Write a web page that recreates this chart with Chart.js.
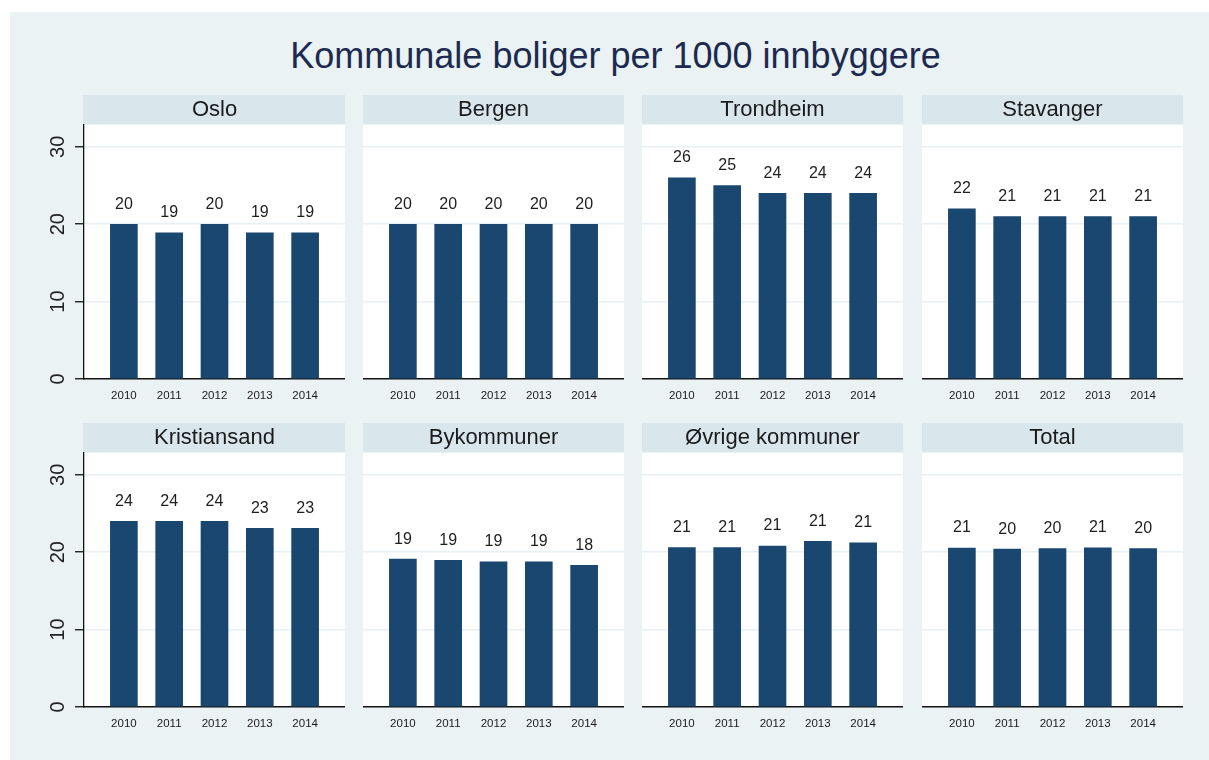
<!DOCTYPE html>
<html><head><meta charset="utf-8">
<script src="https://cdn.jsdelivr.net/npm/chart.js@4"></script>
<style>
body{margin:0;background:#fff;width:1209px;height:760px;overflow:hidden;position:relative;font-family:"Liberation Sans",Arial,sans-serif;}
#bg{position:absolute;left:10px;top:12px;width:1199px;height:748px;background:#eaf2f3;}
#title{position:absolute;left:0;width:1231px;top:36px;text-align:center;font-size:36px;line-height:40px;color:#1c2a50;white-space:nowrap;}
.p{position:absolute;}
</style></head><body>
<div id="bg"></div>
<div id="title">Kommunale boliger per 1000 innbyggere</div>
<script>
// ---- data ----
const years = [2010, 2011, 2012, 2013, 2014];
const panelNames = ["Oslo", "Bergen", "Trondheim", "Stavanger", "Kristiansand", "Bykommuner", "Øvrige kommuner", "Total"];
const oslo = [20, 18.9, 20, 18.9, 18.9];
const bergen = [20, 20, 20, 20, 20];
const trondheim = [26, 25, 24, 24, 24];
const stavanger = [22, 21, 21, 21, 21];
const kristiansand = [24, 24, 24, 23.1, 23.1];
const bykommuner = [19.1, 18.95, 18.75, 18.75, 18.3];
const ovrige = [20.6, 20.6, 20.8, 21.4, 21.2];
const total = [20.55, 20.4, 20.48, 20.58, 20.47];
const yTicks = [0, 10, 20, 30];
const panelValues = [oslo, bergen, trondheim, stavanger, kristiansand, bykommuner, ovrige, total];

// ---- styles / layout ----
const BAR = '#1a476f';
const GRID = '#e8f0f3';
const AXIS = '#111';
const colLeft = [84, 363, 642, 922];
const rowTop = [95, 423];
const plotW = 261;
const yAxisW = 44;
const canvasH = 314;

const panelPlugin = {
  id: 'panelDeco',
  beforeDraw(chart) {
    const {ctx, chartArea: a} = chart;
    ctx.save();
    ctx.fillStyle = '#ffffff';
    ctx.fillRect(a.left, a.top, a.right - a.left, a.bottom - a.top);
    ctx.fillStyle = '#d9e6eb';
    ctx.fillRect(a.left - 1, 0, a.right - a.left + 1, a.top);
    ctx.restore();
  },
  afterDatasetsDraw(chart) {
    const {ctx} = chart;
    const meta = chart.getDatasetMeta(0);
    const data = chart.data.datasets[0].data;
    ctx.save();
    ctx.fillStyle = '#1e1e1e';
    ctx.font = '16px "Liberation Sans", Arial, sans-serif';
    ctx.textAlign = 'center';
    ctx.textBaseline = 'middle';
    meta.data.forEach((bar, i) => {
      ctx.fillText(String(Math.round(data[i].y)), bar.x, bar.y - 20);
    });
    ctx.restore();
  }
};

Chart.defaults.font.family = '"Liberation Sans", Arial, sans-serif';

panelNames.forEach((name, idx) => {
  const r = Math.floor(idx / 4), c = idx % 4;
  const showY = c === 0;
  const div = document.createElement('div');
  div.className = 'p';
  const left = colLeft[c] - (showY ? yAxisW : 0);
  const w = plotW + (showY ? yAxisW : 0);
  div.style.left = left + 'px';
  div.style.top = rowTop[r] + 'px';
  div.style.width = w + 'px';
  div.style.height = canvasH + 'px';
  const cv = document.createElement('canvas');
  div.appendChild(cv);
  document.body.appendChild(div);
  const vals = panelValues[idx];
  new Chart(cv, {
    type: 'bar',
    data: {
      datasets: [{
        data: years.map((yr, i) => ({x: yr, y: vals[i]})),
        backgroundColor: BAR,
        borderWidth: 0,
        barThickness: 27
      }]
    },
    options: {
      responsive: true,
      maintainAspectRatio: false,
      animation: false,
      layout: {padding: 0},
      plugins: {
        legend: {display: false},
        tooltip: {enabled: false},
        title: {
          display: true, text: name, fullSize: false,
          font: {size: 22, weight: 'normal'}, color: '#1b1b1b',
          padding: {top: 2, bottom: 1}
        }
      },
      scales: {
        x: {
          type: 'linear', min: 2009.12, max: 2014.88, offset: false, z: 1,
          grid: {display: false, drawTicks: false},
          border: {display: true, color: AXIS, width: 1.5},
          ticks: {
            stepSize: 1, includeBounds: false, autoSkip: false, maxRotation: 0, minRotation: 0,
            padding: 10, color: '#1a1a1a', font: {size: 11.5},
            callback: v => (years.includes(v) ? String(v) : '')
          },
          afterFit: s => { s.height = 30; }
        },
        y: {
          min: 0, max: 32.9,
          afterBuildTicks: s => { s.ticks = yTicks.map(v => ({value: v})); },
          ticks: {
            display: showY, autoSkip: false, minRotation: 90, maxRotation: 90,
            crossAlign: 'center', padding: 5, color: '#222', font: {size: 20}
          },
          grid: {
            color: ctx => (ctx.tick && ctx.tick.value === 0 ? 'rgba(0,0,0,0)' : GRID),
            lineWidth: 1.5, drawTicks: showY, tickLength: 9, tickColor: AXIS, tickWidth: 1.3
          },
          border: {display: showY, color: AXIS, width: 1.3},
          afterFit: s => { s.width = showY ? yAxisW : 0; }
        }
      }
    },
    plugins: [panelPlugin]
  });
});
</script>
</body></html>
